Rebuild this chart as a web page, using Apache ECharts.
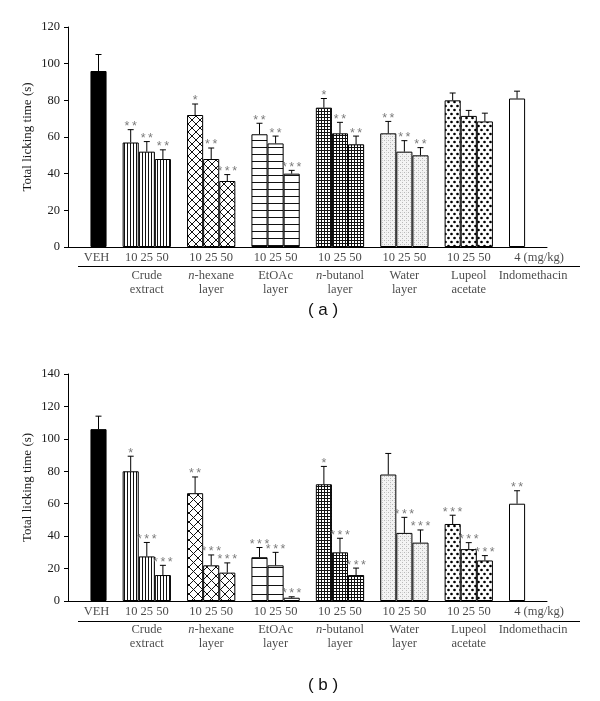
<!DOCTYPE html>
<html>
<head>
<meta charset="utf-8">
<script src="https://cdn.jsdelivr.net/npm/echarts@6/dist/echarts.min.js"></script>
<style>
html,body{margin:0;padding:0;background:#fff;}
#chart{width:600px;height:701px;}
</style>
</head>
<body>
<div id="chart"></div>
<script>
// ---------------- data ----------------
const groupNames = ['', 'Crude\nextract', 'n-hexane\nlayer', 'EtOAc\nlayer', 'n-butanol\nlayer', 'Water\nlayer', 'Lupeol\nacetate', 'Indomethacin'];
const doseLabels = ['VEH', '10 25 50', '10 25 50', '10 25 50', '10 25 50', '10 25 50', '10 25 50', '4 (mg/kg)'];
const yTicksA = [0, 20, 40, 60, 80, 100, 120];
const yTicksB = [0, 20, 40, 60, 80, 100, 120, 140];

// Panel (a)
const meanA = [[96], [57, 52, 48], [72, 48, 36], [61.5, 56.5, 40], [76, 62, 56], [62, 52, 50], [80, 71.5, 68.5], [81]];
const errA  = [[9], [7, 5.5, 5], [6, 6, 3.5], [6, 4, 1.8], [5, 6, 4.5], [6.5, 6, 4.2], [4, 3, 4.5], [4]];
const starsA = [[''], ['**', '**', '**'], ['*', '**', '***'], ['**', '**', '***'], ['*', '**', '**'], ['**', '**', '**'], ['', '', ''], ['']];

// Panel (b)
const meanB = [[106], [80, 27.5, 16], [66.5, 22, 17.5], [27, 22, 2], [72, 30, 16], [78, 42, 36], [47.5, 32, 25], [60]];
const errB  = [[8], [9.3, 8.6, 6], [10, 6.4, 6], [6, 8, 0.6], [11, 8.7, 4.3], [13, 9.6, 7.8], [5.4, 4, 3], [8]];
const starsB = [[''], ['*', '***', '***'], ['**', '***', '***'], ['***', '***', '***'], ['*', '***', '***'], ['', '***', '***'], ['***', '***', '***'], ['**']];

// ---------------- patterns ----------------
function mk(w, h, draw) {
  const c = document.createElement('canvas');
  c.width = w; c.height = h;
  const g = c.getContext('2d');
  g.fillStyle = '#fff'; g.fillRect(0, 0, w, h);
  draw(g, w, h);
  return { image: c, repeat: 'repeat' };
}
function dot(g, x, y, r) { g.beginPath(); g.arc(x, y, r, 0, Math.PI * 2); g.fill(); }
function patterns(hSpacing, xSize) {
  return [
    '#000',
    mk(3, 3, g => { g.fillStyle = '#111'; g.fillRect(1, 0, 1, 3); }),
    mk(xSize, xSize, (g, w, h) => { g.strokeStyle = '#111'; g.lineWidth = 1; g.beginPath(); g.moveTo(0, 0); g.lineTo(w, h); g.moveTo(w, 0); g.lineTo(0, h); g.stroke(); }),
    mk(4, hSpacing, (g, w) => { g.fillStyle = '#111'; g.fillRect(0, 0, w, 1); }),
    mk(3, 3, g => { g.fillStyle = '#111'; g.fillRect(0, 0, 3, 1); g.fillRect(0, 0, 1, 3); }),
    mk(4, 4, g => { g.fillStyle = '#f3f3f3'; g.fillRect(0, 0, 4, 4); g.fillStyle = '#b8b8b8'; g.fillRect(0, 0, 1, 1); g.fillRect(2, 2, 1, 1); g.fillStyle = '#d8d8d8'; g.fillRect(2, 0, 1, 1); }),
    mk(6, 8, g => { g.fillStyle = '#000'; dot(g, 1.5, 2, 1.35); dot(g, 4.5, 6, 1.35); }),
    '#fff'
  ];
}
const patA = patterns(7, 8);
const patB = patterns(9, 9);

// ---------------- build ----------------
const SERIF = 'Liberation Serif';
function layout(means) {
  // bar positions on the hidden x value scale: one slot per bar, one empty slot between groups
  const pos = []; let p = 0;
  means.forEach(arr => { pos.push(arr.map((_, j) => p + j)); p += arr.length + 1; });
  return pos;
}
function fmtName(s) { return s.replace(/^n-/, '{i|n}-').replace(/\nn-/, '\n{i|n}-'); }

function panelSeries(idx, means, errs, stars, pats) {
  const pos = layout(means);
  const barData = [], errData = [], starFlat = [], doseData = [], nameData = [];
  means.forEach((arr, g) => {
    arr.forEach((v, j) => {
      barData.push({ value: [pos[g][j], v], itemStyle: { color: pats[g] } });
      errData.push([pos[g][j], v, errs[g][j]]);
      starFlat.push(stars[g][j]);
    });
    const c = pos[g][Math.floor(arr.length / 2)];
    const last = g === means.length - 1;
    doseData.push({ value: [c, 0], label: { formatter: doseLabels[g], offset: last ? [22, 0] : [g === 0 ? -2 : 0, 0] } });
    nameData.push({ value: [c, 0], label: { formatter: fmtName(groupNames[g]), offset: last ? [16, 0] : [0, 0] } });
  });
  return [
    {
      type: 'bar', xAxisIndex: idx, yAxisIndex: idx, data: barData, barWidth: 16.1, barGap: '-100%',
      itemStyle: { borderColor: '#000', borderWidth: 1 }, animation: false, z: 2
    },
    {
      type: 'custom', xAxisIndex: idx, yAxisIndex: idx, data: errData, z: 5, animation: false, clip: false,
      renderItem: function (params, api) {
        const x = api.value(0), y = api.value(1), e = api.value(2);
        const b = api.coord([x, y]);
        const t = api.coord([x, y + e]);
        const children = [
          { type: 'line', shape: { x1: b[0], y1: b[1], x2: t[0], y2: t[1] }, style: { stroke: '#000', lineWidth: 1 } },
          { type: 'line', shape: { x1: t[0] - 3, y1: t[1], x2: t[0] + 3, y2: t[1] }, style: { stroke: '#000', lineWidth: 1 } }
        ];
        const s = starFlat[params.dataIndex];
        if (s) {
          children.push({
            type: 'text', style: {
              text: s.split('').join('\u2009'), x: t[0], y: t[1] - 3, align: 'center', verticalAlign: 'middle',
              font: '12.5px "Liberation Sans"', fill: '#7a7a7a'
            }
          });
        }
        return { type: 'group', children: children };
      }
    },
    {
      type: 'scatter', xAxisIndex: idx, yAxisIndex: idx, data: doseData, symbolSize: 0, silent: true, animation: false, clip: false,
      label: { show: true, position: 'bottom', distance: 4, fontFamily: SERIF, fontSize: 12.5, color: '#1a1a1a' }
    },
    {
      type: 'scatter', xAxisIndex: idx, yAxisIndex: idx, data: nameData, symbolSize: 0, silent: true, animation: false, clip: false,
      label: {
        show: true, position: 'bottom', distance: 22, fontFamily: SERIF, fontSize: 12.5, lineHeight: 14, color: '#1a1a1a', align: 'center',
        rich: { i: { fontFamily: SERIF, fontStyle: 'italic', fontSize: 12.5, lineHeight: 14, color: '#1a1a1a' } }
      }
    }
  ];
}

const grids = [
  { left: 68, top: 27, width: 479, height: 220 },
  { left: 68, top: 374, width: 479, height: 227 }
];
function xAxis(i) {
  return {
    type: 'value', gridIndex: i, min: -1.895, max: 27.86, splitLine: { show: false },
    axisLine: { onZero: false, lineStyle: { color: '#000', width: 1 } }, axisTick: { show: false }, axisLabel: { show: false }
  };
}
function yAxis(i, ticks) {
  return {
    type: 'value', gridIndex: i, min: ticks[0], max: ticks[ticks.length - 1], interval: ticks[1] - ticks[0],
    name: 'Total licking time (s)', nameLocation: 'middle', nameGap: 34, nameMoveOverlap: false,
    nameTextStyle: { fontFamily: SERIF, fontSize: 13, color: '#1a1a1a' },
    splitLine: { show: false },
    axisLine: { show: true, onZero: false, lineStyle: { color: '#000', width: 1 } },
    axisTick: { show: true, length: 4, lineStyle: { color: '#000' } },
    axisLabel: { margin: 8, fontFamily: SERIF, fontSize: 12.5, color: '#1a1a1a' }
  };
}

const option = {
  backgroundColor: '#fff',
  animation: false,
  grid: grids,
  xAxis: [xAxis(0), xAxis(1)],
  yAxis: [yAxis(0, yTicksA), yAxis(1, yTicksB)],
  graphic: [
    { type: 'line', shape: { x1: 78, y1: 266.5, x2: 580, y2: 266.5 }, style: { stroke: '#000', lineWidth: 1 } },
    { type: 'line', shape: { x1: 78, y1: 621.5, x2: 580, y2: 621.5 }, style: { stroke: '#000', lineWidth: 1 } },
    { type: 'text', x: 323, y: 310, style: { text: '( a )', font: '17px "Liberation Sans"', fill: '#111', align: 'center', verticalAlign: 'middle' } },
    { type: 'text', x: 323, y: 685, style: { text: '( b )', font: '17px "Liberation Sans"', fill: '#111', align: 'center', verticalAlign: 'middle' } }
  ],
  series: [].concat(
    panelSeries(0, meanA, errA, starsA, patA),
    panelSeries(1, meanB, errB, starsB, patB)
  )
};
const chart = echarts.init(document.getElementById('chart'), null, { renderer: 'canvas' });
chart.setOption(option);
</script>
</body>
</html>
